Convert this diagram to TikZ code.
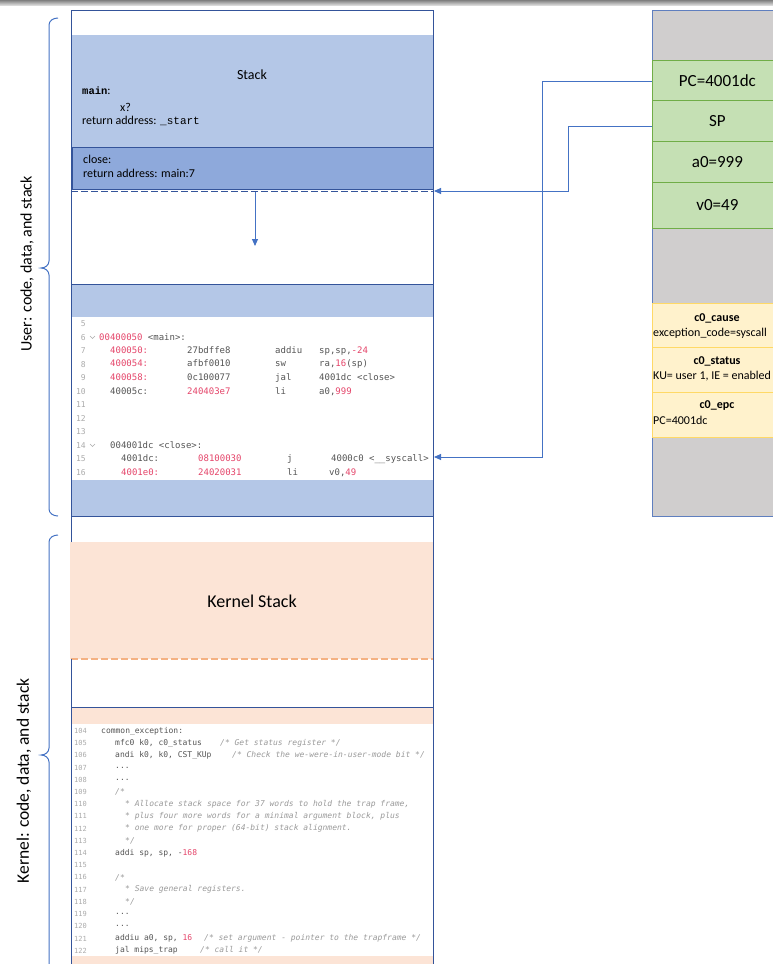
\documentclass[tikz,border=0pt]{standalone}
\usepackage{fontspec}
\setmainfont{Carlito}
\newfontfamily\codefont{DejaVu Sans Mono}
\newfontfamily\cnfont{Liberation Mono}
\usetikzlibrary{arrows.meta,calc}

\definecolor{frameblue}{HTML}{34549A}
\definecolor{stackblue}{HTML}{B4C7E7}
\definecolor{closeblue}{HTML}{8EA9DB}
\definecolor{linkblue}{HTML}{4472C4}
\definecolor{panelblue}{HTML}{5F7FBF}
\definecolor{peach}{HTML}{FCE4D6}
\definecolor{peachline}{HTML}{F4B183}
\definecolor{reggreen}{HTML}{C5E0B4}
\definecolor{greenline}{HTML}{70AD47}
\definecolor{cpyellow}{HTML}{FFF2CC}
\definecolor{yellowline}{HTML}{FFD966}
\definecolor{panelgray}{HTML}{D0CECE}
\definecolor{codered}{HTML}{E5456A}
\definecolor{codetext}{HTML}{555555}
\definecolor{lineno}{HTML}{ABABAB}
\definecolor{cmtgray}{HTML}{9A9A9A}

% red literals, grey italic comments, fixed-width code columns
\newcommand\R[1]{\textcolor{codered}{#1}}
\newcommand\cm[1]{\textcolor{cmtgray}{\itshape #1}}
\newcommand\col[2]{\makebox[#1pt][l]{#2}}

\tikzset{
  lbl/.style={inner sep=0, anchor=west, font=\fontsize{12}{12}\selectfont},
  ucode/.style={inner sep=0, anchor=west, font=\codefont\fontsize{9}{9}\selectfont, text=codetext},
  unum/.style={inner sep=0, anchor=east, font=\codefont\fontsize{8}{8}\selectfont, text=lineno},
  kcode/.style={inner sep=0, anchor=west, font=\codefont\fontsize{8}{8}\selectfont, text=codetext},
  knum/.style={inner sep=0, anchor=west, font=\codefont\fontsize{7}{7}\selectfont, text=lineno},
  frameline/.style={draw=frameblue, line width=1pt},
  conn/.style={draw=linkblue, line width=0.9pt, -{Triangle[length=7pt,width=6pt]}},
  regcell/.style={draw=greenline, fill=reggreen, line width=0.8pt, minimum width=130pt,
    anchor=north west, inner sep=0, font=\fontsize{17}{17}\selectfont},
  cpcell/.style={draw=yellowline, fill=cpyellow, line width=0.8pt, minimum width=130pt,
    anchor=north west, inner sep=0},
  cptitle/.style={inner sep=0, font=\bfseries\fontsize{12}{12}\selectfont},
  cpvalue/.style={inner sep=0, anchor=west, font=\fontsize{12}{12}\selectfont},
  brace/.style={draw=linkblue, line width=1pt},
  sidelbl/.style={rotate=90, inner sep=0},
}

\begin{document}
\begin{tikzpicture}[x=1pt, y=-1pt]
\useasboundingbox (0,0) rectangle (773,964);
\clip (0,0) rectangle (773,964);
\fill[white] (0,0) rectangle (773,964);
\shade[top color=black!50, bottom color=black!15] (0,0) rectangle (773,5);

% ---------- address space column ----------
\fill[stackblue] (71,35) rectangle (433,147);
\draw[frameline, fill=closeblue] (72,147) rectangle (433,189);
\draw[draw=frameblue, line width=1.2pt, dash pattern=on 7pt off 3pt] (71,191.5) -- (433,191.5);
\fill[stackblue] (71,284) rectangle (433,317);
\fill[stackblue] (71,480) rectangle (433,516);
\fill[peach] (70,542) rectangle (433,659);
\draw[draw=peachline, line width=1.2pt, dash pattern=on 7pt off 3pt] (71,659) -- (433,659);
\fill[peach] (71,708) rectangle (433,724);
\fill[peach] (71,956) rectangle (433,970);

\draw[frameline] (71,542) -- (71,10) -- (433,10) -- (433,970);
\draw[frameline] (71,659) -- (71,970);
\draw[frameline] (71,284) -- (433,284);
\draw[frameline] (71,516) -- (433,516);
\draw[frameline] (71,707) -- (433,707);

% stack frames
\node[inner sep=0, font=\fontsize{14}{14}\selectfont] (stacklbl) at (252,75) {Stack};
\node[lbl] (mainlbl) at (82,91) {{\cnfont\bfseries\fontsize{10.5}{10.5}\selectfont main}:};
\node[lbl] (xvar) at (120,107) {x?};
\node[lbl] (retstart) at (82,121) {return address: {\cnfont\fontsize{11}{11}\selectfont \_start}};
\node[lbl] (closelbl) at (83,159) {close:};
\node[lbl] (retmain) at (83,173) {return address: main:7};

% stack growth
\coordinate (growtop) at (255,192);
\coordinate (growend) at (255,246);
\draw[conn] (growtop) -- (growend);

% user code listing
\foreach \n/\y in {5/324,6/337.5,7/351,8/364.5,9/378,10/391.5,11/405,12/418.5,13/432,14/445.5,15/459,16/472.5}
  \node[unum] (uln\n) at (86,\y) {\n};
\draw[lineno, line width=0.5pt] (90,336) -- (92.5,338.5) -- (95,336);
\draw[lineno, line width=0.5pt] (90,444) -- (92.5,446.5) -- (95,444);
\node[ucode] (u6) at (99,337.5) {\R{00400050} <main>:};
\node[ucode] (u7) at (110,351) {\col{77}{\R{400050:}}\col{88}{27bdffe8}\col{44}{addiu}sp,sp,\R{-24}};
\node[ucode] (u8) at (110,364.5) {\col{77}{\R{400054:}}\col{88}{afbf0010}\col{44}{sw}ra,\R{16}(sp)};
\node[ucode] (u9) at (110,378) {\col{77}{\R{400058:}}\col{88}{0c100077}\col{44}{jal}4001dc <close>};
\node[ucode] (u10) at (110,391.5) {\col{77}{40005c:}\col{88}{\R{240403e7}}\col{44}{li}a0,\R{999}};
\node[ucode] (u14) at (110,445.5) {004001dc <close>:};
\node[ucode] (u15) at (121,459) {\col{77}{4001dc:}\col{89}{\R{08100030}}\col{44}{j}4000c0 <\_\_syscall>};
\node[ucode] (u16) at (121,472.5) {\col{77}{\R{4001e0:}}\col{89}{\R{24020031}}\col{42}{li}v0,\R{49}};

% kernel stack
\node[inner sep=0, font=\fontsize{18}{18}\selectfont] (kstack) at (252,601) {Kernel Stack};

% kernel code listing
\foreach \n [count=\i from 0] in {104,...,122}
  \node[knum] (kln\n) at (74,731+12.2*\i) {\n};
\node[kcode] (k104) at (101,731) {common\_exception:};
\node[kcode] (k105) at (115,743.2) {\col{105}{mfc0 k0, c0\_status}\cm{/* Get status register */}};
\node[kcode] (k106) at (115,755.4) {\col{117}{andi k0, k0, CST\_KUp}\cm{/* Check the we-were-in-user-mode bit */}};
\node[kcode] (k107) at (115,767.6) {...};
\node[kcode] (k108) at (115,779.8) {...};
\node[kcode] (k109) at (115,792) {\cm{/*}};
\node[kcode] (k110) at (125,804.2) {\cm{* Allocate stack space for 37 words to hold the trap frame,}};
\node[kcode] (k111) at (125,816.4) {\cm{* plus four more words for a minimal argument block, plus}};
\node[kcode] (k112) at (125,828.6) {\cm{* one more for proper (64-bit) stack alignment.}};
\node[kcode] (k113) at (125,840.8) {\cm{*/}};
\node[kcode] (k114) at (115,853) {addi sp, sp, -\R{168}};
\node[kcode] (k116) at (115,877.4) {\cm{/*}};
\node[kcode] (k117) at (125,889.6) {\cm{* Save general registers.}};
\node[kcode] (k118) at (125,901.8) {\cm{*/}};
\node[kcode] (k119) at (115,914) {...};
\node[kcode] (k120) at (115,926.2) {...};
\node[kcode] (k121) at (115,938.4) {\col{89}{addiu a0, sp, \R{16}}\cm{/* set argument - pointer to the trapframe */}};
\node[kcode] (k122) at (115,950.6) {\col{85}{jal mips\_trap}\cm{/* call it */}};

% ---------- CPU register panel ----------
\draw[draw=panelblue, fill=panelgray, line width=0.9pt] (790,10) -- (652,10) -- (652,516) -- (790,516);
\node[regcell, minimum height=40pt] (pc) at (652,60) {PC=4001dc};
\node[regcell, minimum height=41pt] (sp) at (652,100) {SP};
\node[regcell, minimum height=41pt] (a0) at (652,141) {a0=999};
\node[regcell, minimum height=46pt] (v0) at (652,182) {v0=49};

\node[cpcell, minimum height=44pt] (cause) at (652,303) {};
\node[cpcell, minimum height=45pt] (status) at (652,347) {};
\node[cpcell, minimum height=45pt] (epc) at (652,392) {};
\node[cptitle] (causet) at (717,318) {c0\_cause};
\node[cpvalue] (causev) at (653,333) {exception\_code=syscall};
\node[cptitle] (statust) at (717,361) {c0\_status};
\node[cpvalue] (statusv) at (653,376) {KU= user 1, IE = enabled};
\node[cptitle] (epct) at (717,406) {c0\_epc};
\node[cpvalue] (epcv) at (653,420) {PC=4001dc};

% register links into memory
\coordinate (codetarget) at (434,457);
\coordinate (stacktarget) at (434,191);
\draw[conn] ($(pc.west)+(0,1)$) -- ++(-110,0) |- (codetarget);
\draw[conn] ($(sp.west)+(0,6)$) -- ++(-84,0) |- (stacktarget);

% ---------- region braces ----------
\draw[brace] (58,18) to[out=180,in=90] (49,25) -- (49,261)
  to[out=270,in=0] (41,268) to[out=0,in=90] (49,275) -- (49,509)
  to[out=270,in=180] (58,516);
\draw[brace] (58,535) to[out=180,in=90] (49,542) -- (49,748)
  to[out=270,in=0] (41,755) to[out=0,in=90] (49,762) -- (49,980);
\node[sidelbl, font=\fontsize{16}{16}\selectfont] (userlbl) at (27,264) {User: code, data, and stack};
\node[sidelbl, font=\fontsize{17.5}{17.5}\selectfont] (kernlbl) at (24,781) {Kernel: code, data, and stack};
\end{tikzpicture}
\end{document}
